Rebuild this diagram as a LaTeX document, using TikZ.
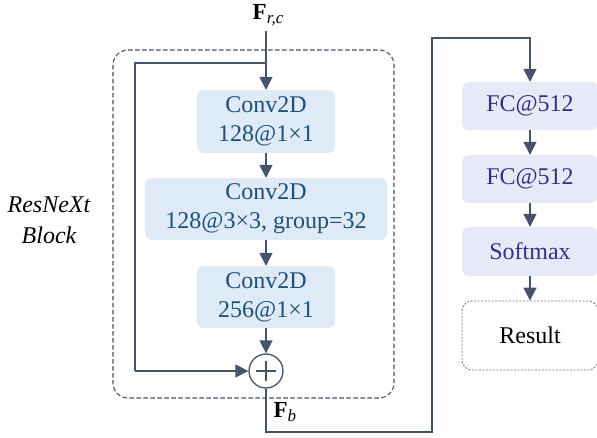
\documentclass[tikz,border=0pt]{standalone}
\usepackage{fontspec}
\setmainfont{Liberation Serif}
\usetikzlibrary{arrows.meta}
\definecolor{linec}{HTML}{44546A}
\definecolor{convfill}{HTML}{DEEBF7}
\definecolor{convtext}{HTML}{1F4E79}
\definecolor{fcfill}{HTML}{E8E9F6}
\definecolor{fctext}{HTML}{2E3388}
\tikzset{
  conn/.style={draw=linec, line width=1.6pt},
  arr/.style={conn, -{Triangle[length=13pt,width=13pt]}},
  convbox/.style={fill=convfill, text=convtext, rounded corners=7pt, inner sep=0pt, align=center,
    font=\fontsize{24}{29}\selectfont},
  fcbox/.style={fill=fcfill, text=fctext, rounded corners=7pt, inner sep=0pt, align=center,
    minimum width=136pt, minimum height=48pt, font=\fontsize{24}{28}\selectfont},
}
\begin{document}
\begin{tikzpicture}[x=1pt,y=-1pt]
\useasboundingbox (0,0) rectangle (597,438);
% block frame
\draw[linec, line width=1.1pt, dash pattern=on 4.5pt off 2.5pt, rounded corners=15pt] (113,50) rectangle (394,398);
\node[font=\itshape\fontsize{24}{31}\selectfont, align=center] (blocklbl) at (49,220) {ResNeXt\\Block};
% nodes
\node[font=\fontsize{23}{26}\selectfont] (fin) at (268,15) {\textbf{F}\raisebox{-0.35ex}{\fontsize{17}{20}\selectfont\itshape r,c}};
\coordinate (intop) at (266,31);
\node[convbox, minimum width=138pt, minimum height=63pt] (c1) at (266,121.5) {Conv2D\\128@1×1};
\node[convbox, minimum width=242pt, minimum height=62pt] (c2) at (266,209) {Conv2D\\128@3×3, group=32};
\node[convbox, minimum width=138pt, minimum height=62pt] (c3) at (266,297) {Conv2D\\256@1×1};
\node[circle, draw=linec, line width=1.3pt, minimum size=34pt, inner sep=0pt, fill=white] (plus) at (266,371) {};
\draw[linec, line width=1.6pt] ([yshift=-10pt]plus.center) -- ([yshift=10pt]plus.center)
  ([xshift=-10pt]plus.center) -- ([xshift=10pt]plus.center);
\node[anchor=west, font=\fontsize{23}{26}\selectfont] (fb) at (270,412) {\textbf{F}\raisebox{-0.35ex}{\fontsize{17}{20}\selectfont\itshape b}};
\node[fcbox] (fc1) at (530,106) {FC@512};
\node[fcbox] (fc2) at (530,179) {FC@512};
\node[fcbox, minimum height=49pt] (sm) at (530,251.5) {Softmax};
\node[draw=linec!80, line width=0.8pt, dash pattern=on 2pt off 1.5pt, rounded corners=10pt, minimum width=136pt, minimum height=69pt,
  font=\fontsize{24}{28}\selectfont] (res) at (530,335.5) {Result};
% connectors
\coordinate (split) at (266,63);
\coordinate (skl) at (135,63);
\coordinate (skb) at (135,371);
\draw[arr] (intop) -- (c1.north);
\draw[conn] (split) -- (skl) -- (skb);
\draw[arr] (skb) -- (plus.west);
\draw[arr] (c1) -- (c2);
\draw[arr] (c2) -- (c3);
\draw[arr] (c3) -- (plus);
\coordinate (o1) at (266,432);
\coordinate (o2) at (432,432);
\coordinate (o3) at (432,38);
\coordinate (o4) at (530,38);
\draw[arr, line join=miter] (plus.south) -- (o1) -- (o2) -- (o3) -- (o4) -- (fc1.north);
\draw[arr] (fc1) -- (fc2);
\draw[arr] (fc2) -- (sm);
\draw[arr] (sm) -- (res);
\end{tikzpicture}
\end{document}
